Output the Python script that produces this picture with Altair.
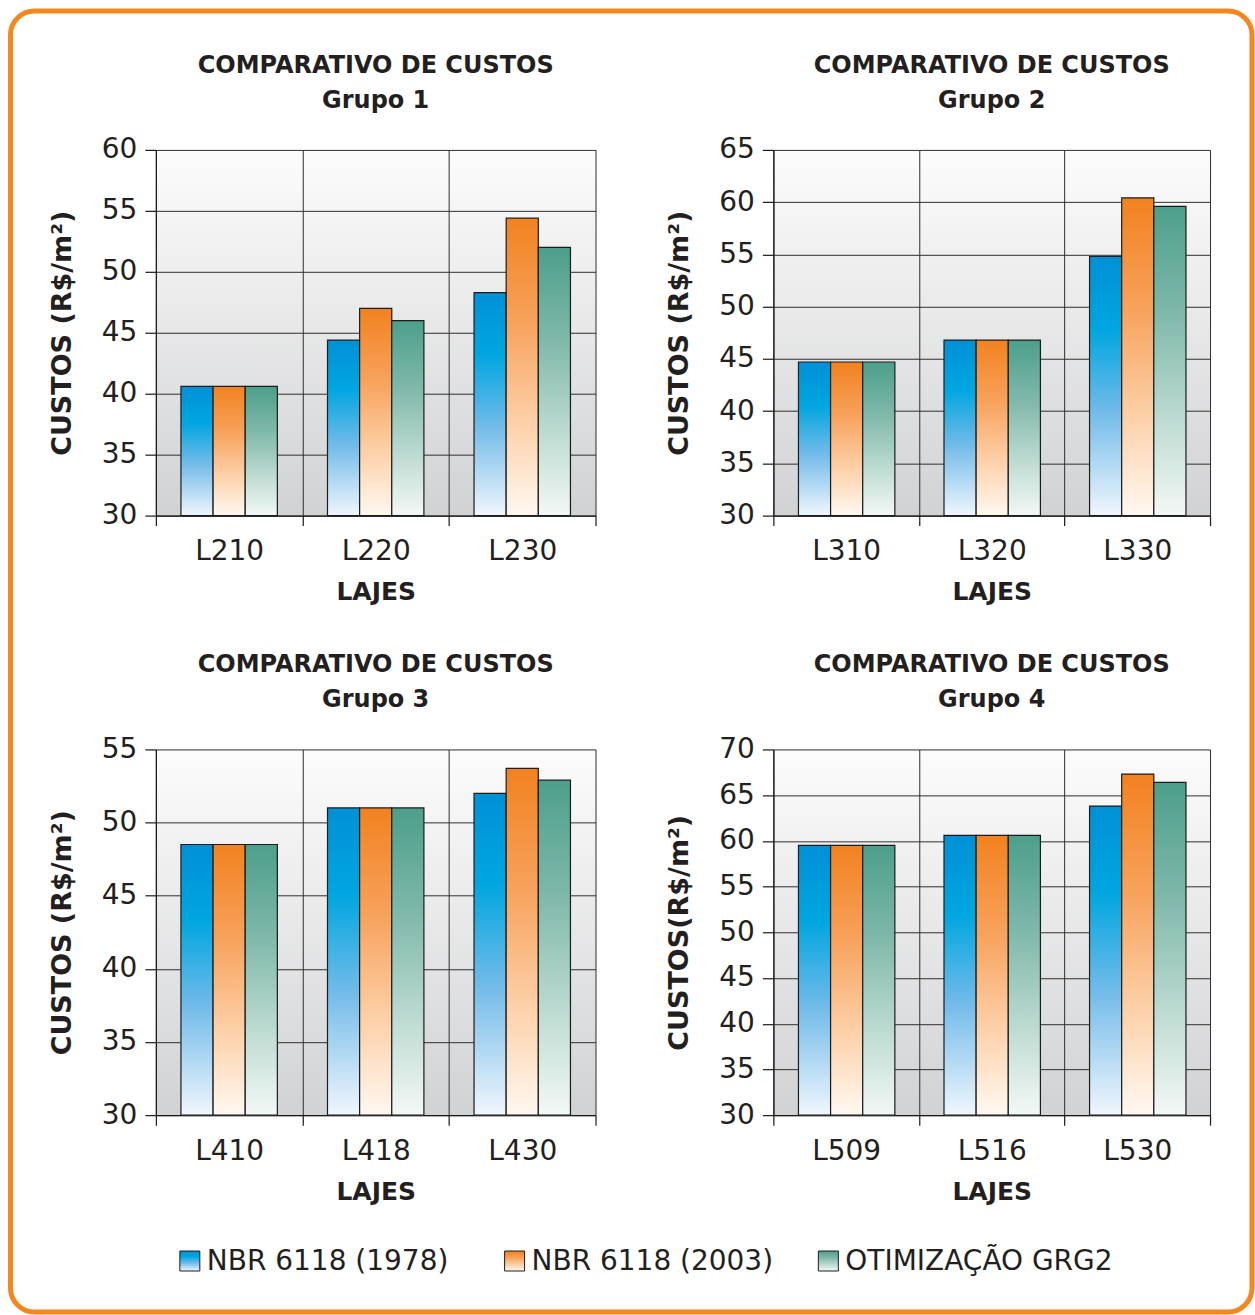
import altair as alt
import pandas as pd

# ---- data -------------------------------------------------------------
SERIES = ["NBR 6118 (1978)", "NBR 6118 (2003)", "OTIMIZAÇÃO GRG2"]

G1_LAJES = ["L210", "L220", "L230"]
G1_1978 = [40.6, 44.4, 48.3]
G1_2003 = [40.6, 47.0, 54.4]
G1_GRG2 = [40.6, 46.0, 52.0]
G1_TICKS = [30, 35, 40, 45, 50, 55, 60]

G2_LAJES = ["L310", "L320", "L330"]
G2_1978 = [44.7, 46.8, 54.8]
G2_2003 = [44.7, 46.8, 60.4]
G2_GRG2 = [44.7, 46.8, 59.6]
G2_TICKS = [30, 35, 40, 45, 50, 55, 60, 65]

G3_LAJES = ["L410", "L418", "L430"]
G3_1978 = [48.5, 51.0, 52.0]
G3_2003 = [48.5, 51.0, 53.7]
G3_GRG2 = [48.5, 51.0, 52.9]
G3_TICKS = [30, 35, 40, 45, 50, 55]

G4_LAJES = ["L509", "L516", "L530"]
G4_1978 = [59.5, 60.6, 63.8]
G4_2003 = [59.5, 60.6, 67.3]
G4_GRG2 = [59.5, 60.6, 66.4]
G4_TICKS = [30, 35, 40, 45, 50, 55, 60, 65, 70]

TITLE = "COMPARATIVO DE CUSTOS"
SUBTITLES = ["Grupo 1", "Grupo 2", "Grupo 3", "Grupo 4"]
X_TITLE = "LAJES"
Y_TITLE = "CUSTOS (R$/m²)"
Y_TITLE_G4 = "CUSTOS(R$/m²)"

# ---- style ------------------------------------------------------------
FONT = "DejaVu Sans"
INK = "#231f20"
ORANGE = "#f5871f"
OUTLINE = "#1c1c1c"
LEFT_W, RIGHT_W, PANEL_H = 440, 437, 366


def vgrad(stops):
    return alt.LinearGradient(
        gradient="linear", x1=0, y1=0, x2=0, y2=1,
        stops=[alt.GradientStop(offset=o, color=c) for o, c in stops],
    )


BAR_FILLS = {
    SERIES[0]: vgrad([(0, "#0090d6"), (0.28, "#00a6e0"), (0.6, "#72bbe9"), (1, "#f0f6fd")]),
    SERIES[1]: vgrad([(0, "#f28220"), (0.35, "#f7a25c"), (0.7, "#fdd2ab"), (1, "#fff8f1")]),
    SERIES[2]: vgrad([(0, "#4c9f8b"), (0.35, "#80b9aa"), (0.7, "#bfdcd3"), (1, "#f3f8f6")]),
}

PLOT_BG = ("{gradient: 'linear', x1: 0, y1: 0, x2: 0, y2: 1, "
           "stops: [{offset: 0, color: '#fcfcfc'}, {offset: 1, color: '#d1d2d4'}]}")


def one_row():
    return alt.Data(values=[{}])


def panel(subtitle, lajes, s1978, s2003, sgrg2, ticks, ytitle, width, extras=()):
    rows = []
    for serie, vals in zip(SERIES, [s1978, s2003, sgrg2]):
        for laje, v in zip(lajes, vals):
            rows.append({"laje": laje, "serie": serie, "custo": v})
    df = pd.DataFrame(rows)
    lo, hi = ticks[0], ticks[-1]

    x = alt.X(
        "laje:N", sort=lajes,
        scale=alt.Scale(paddingInner=0, paddingOuter=0),
        axis=alt.Axis(title=X_TITLE, tickBand="extent", grid=True, labelAngle=0,
                      labelPadding=12, titlePadding=14, tickSize=10,
                      titleFontSize=25),
    )
    y = alt.Y(
        "custo:Q",
        scale=alt.Scale(domain=[lo, hi], nice=False, zero=False),
        axis=alt.Axis(values=ticks, title=ytitle, grid=True, tickSize=11,
                      labelPadding=8, titlePadding=25, titleFontSize=27),
    )
    xo = alt.XOffset("serie:N", sort=SERIES,
                     scale=alt.Scale(domain=SERIES, paddingOuter=0.78, paddingInner=0))

    layers = []
    for s in SERIES:
        layers.append(
            alt.Chart(df)
            .transform_filter(alt.FieldEqualPredicate(field="serie", equal=s))
            .mark_bar(fill=BAR_FILLS[s], stroke=OUTLINE, strokeWidth=1.2)
            .encode(x=x, xOffset=xo, y=y, y2=alt.datum(lo))
        )

    # two-line heading above the plot
    layers.append(
        alt.Chart(one_row())
        .mark_text(align="center", baseline="alphabetic", font=FONT, fontSize=24,
                   fontWeight="bold", color=INK)
        .encode(x=alt.value(width / 2), y=alt.value(-77), text=alt.value(TITLE))
    )
    layers.append(
        alt.Chart(one_row())
        .mark_text(align="center", baseline="alphabetic", font=FONT, fontSize=24,
                   fontWeight="bold", color=INK)
        .encode(x=alt.value(width / 2), y=alt.value(-42), text=alt.value(subtitle))
    )
    layers.extend(extras)

    return alt.layer(*layers).properties(
        width=width, height=PANEL_H,
        view=alt.ViewBackground(fill=alt.ExprRef(expr=PLOT_BG), stroke="transparent"),
    )


# ---- legend and outer border (drawn from the bottom-left panel) ---------
LEGEND_X = [34, 359, 673]
LEGEND_Y = 512
decor = []
for s, lx in zip(SERIES, LEGEND_X):
    item = alt.Data(values=[{"serie": s}])
    decor.append(
        alt.Chart(item)
        .mark_square(size=400, fill=BAR_FILLS[s], stroke=OUTLINE, strokeWidth=1, opacity=1)
        .encode(x=alt.value(lx), y=alt.value(LEGEND_Y))
    )
    decor.append(
        alt.Chart(item)
        .mark_text(align="left", baseline="middle", dx=17, font=FONT, fontSize=28, color=INK)
        .encode(x=alt.value(lx), y=alt.value(LEGEND_Y + 1), text="serie:N")
    )
decor.append(
    alt.Chart(one_row())
    .mark_rect(fillOpacity=0, stroke=ORANGE, strokeWidth=5, cornerRadius=24)
    .encode(x=alt.value(-145.5), x2=alt.value(1097),
            y=alt.value(-739), y2=alt.value(563))
)

p1 = panel(SUBTITLES[0], G1_LAJES, G1_1978, G1_2003, G1_GRG2, G1_TICKS, Y_TITLE, LEFT_W)
p2 = panel(SUBTITLES[1], G2_LAJES, G2_1978, G2_2003, G2_GRG2, G2_TICKS, Y_TITLE, RIGHT_W)
p3 = panel(SUBTITLES[2], G3_LAJES, G3_1978, G3_2003, G3_GRG2, G3_TICKS, Y_TITLE, LEFT_W,
           extras=decor)
p4 = panel(SUBTITLES[3], G4_LAJES, G4_1978, G4_2003, G4_GRG2, G4_TICKS, Y_TITLE_G4, RIGHT_W)

chart = (
    alt.concat(p1, p2, p3, p4, columns=2, bounds="flush",
               spacing={"row": 234, "column": 178})
    .properties(padding={"left": 7, "top": 7.5, "right": 0, "bottom": 0},
                background="white")
    .configure_view(stroke="transparent")
    .configure_axis(
        domainColor="#1a1a1a", tickColor="#1a1a1a", gridColor="#2e2e2e",
        gridWidth=1, gridOpacity=1, domainWidth=1.2, tickWidth=1.2,
        labelFont=FONT, labelFontSize=28, labelColor=INK,
        titleFont=FONT, titleFontWeight="bold", titleColor=INK,
    )
)

chart.save("out.html", embed_options={"renderer": "svg", "actions": False})
